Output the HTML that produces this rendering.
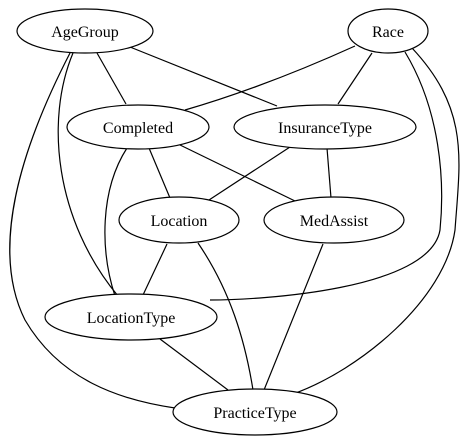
<!DOCTYPE html>
<html><head><style>body{margin:0;background:#fff}svg{display:block}</style></head><body>
<svg width="462" height="443" viewBox="0 0 462 443" xmlns="http://www.w3.org/2000/svg" font-family="Liberation Serif, serif" font-size="16">
<g fill="none" stroke="#000" stroke-width="1.2">
<path d="M97,53 L126,104"/>
<path d="M130,47 L277,106"/>
<path d="M73,53 C45,120 55,220 118,296"/>
<path d="M70,53 C20,150 -10,250 25,320 C60,380 120,400 175,408"/>
<path d="M127,148 C100,190 100,250 115,296"/>
<path d="M355,46 C280,80 220,100 185,110"/>
<path d="M372,53 L338,104"/>
<path d="M405,52 C440,110 445,180 440,230 C430,290 260,300 210,300"/>
<path d="M412,48 C470,110 460,160 455,230 C445,300 360,370 293,394"/>
<path d="M149,148 L170,198"/>
<path d="M178,144 L295,201"/>
<path d="M290,147 L209,200"/>
<path d="M327,148 L331,198"/>
<path d="M167,244 L143,295"/>
<path d="M198,243 C230,290 245,340 253,390"/>
<path d="M323,244 L264,390"/>
<path d="M160,339 L228,390"/>
</g>
<g fill="#fff" stroke="#000" stroke-width="1.2">
<ellipse cx="85" cy="31" rx="68" ry="22"/>
<ellipse cx="388" cy="31" rx="40" ry="22"/>
<ellipse cx="138" cy="127" rx="71" ry="22"/>
<ellipse cx="325" cy="127" rx="91" ry="22"/>
<ellipse cx="179" cy="220" rx="60" ry="23"/>
<ellipse cx="334" cy="220" rx="70" ry="23"/>
<ellipse cx="131" cy="317" rx="86" ry="23"/>
<ellipse cx="255" cy="412" rx="82" ry="23"/>
</g>
<g text-anchor="middle" fill="#000">
<text x="85" y="37">AgeGroup</text>
<text x="388" y="37">Race</text>
<text x="138" y="133">Completed</text>
<text x="325" y="133">InsuranceType</text>
<text x="179" y="226">Location</text>
<text x="334" y="226">MedAssist</text>
<text x="131" y="323">LocationType</text>
<text x="255" y="418">PracticeType</text>
</g>
</svg>
</body></html>
